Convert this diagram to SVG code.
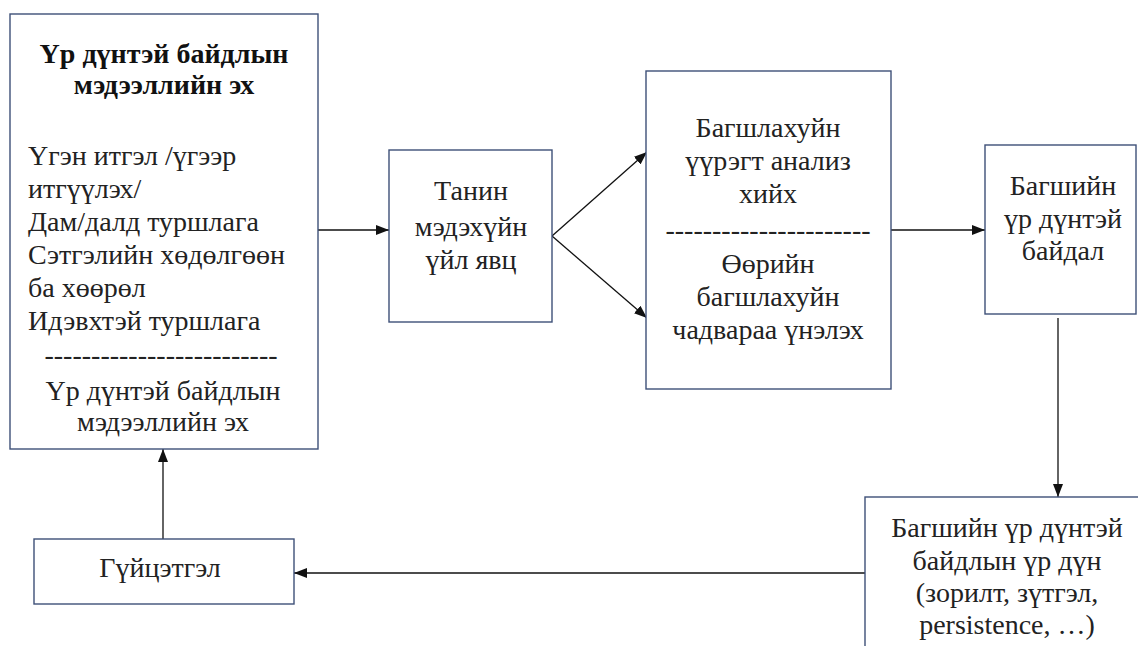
<svg xmlns="http://www.w3.org/2000/svg" width="1138" height="646" viewBox="0 0 1138 646">
<defs>
<marker id="ah" markerUnits="userSpaceOnUse" markerWidth="14" markerHeight="10" refX="13" refY="5" orient="auto">
<path d="M0,0 L13,5 L0,10 z" fill="#111"/>
</marker>
</defs>
<rect width="1138" height="646" fill="#fff"/>
<g id="connectors" stroke="#111" stroke-width="1.3" fill="none">
<line x1="318" y1="230" x2="389" y2="230" marker-end="url(#ah)"/>
<line x1="552" y1="236" x2="647" y2="152" marker-end="url(#ah)"/>
<line x1="552" y1="236" x2="647" y2="318" marker-end="url(#ah)"/>
<line x1="891" y1="230" x2="985" y2="230" marker-end="url(#ah)"/>
<line x1="1058" y1="318" x2="1058" y2="497" marker-end="url(#ah)"/>
<line x1="865" y1="573" x2="294" y2="573" marker-end="url(#ah)"/>
<line x1="163" y1="539" x2="163" y2="449" marker-end="url(#ah)"/>
</g>
<g id="node-source" fill="#222">
<rect x="10" y="14" width="308" height="435" fill="#fff" stroke="#3e5078" stroke-width="1.4"/>
<text font-family="Liberation Serif" font-size="28" font-weight="bold" fill="#111" text-anchor="middle" x="164" y="63">Үр дүнтэй байдлын</text>
<text font-family="Liberation Serif" font-size="28" font-weight="bold" fill="#111" text-anchor="middle" x="164" y="94">мэдээллийн эх</text>
<text font-family="Liberation Serif" font-size="28" x="28" y="165">Үгэн итгэл /үгээр</text>
<text font-family="Liberation Serif" font-size="28" x="28" y="198">итгүүлэх/</text>
<text font-family="Liberation Serif" font-size="28" x="28" y="231">Дам/далд туршлага</text>
<text font-family="Liberation Serif" font-size="28" x="28" y="264">Сэтгэлийн хөдөлгөөн</text>
<text font-family="Liberation Serif" font-size="28" x="28" y="297">ба хөөрөл</text>
<text font-family="Liberation Serif" font-size="28" x="28" y="330">Идэвхтэй туршлага</text>
<text font-family="Liberation Serif" font-size="28" text-anchor="middle" x="161" y="364">-------------------------</text>
<text font-family="Liberation Serif" font-size="28" text-anchor="middle" x="163" y="400">Үр дүнтэй байдлын</text>
<text font-family="Liberation Serif" font-size="28" text-anchor="middle" x="163" y="431">мэдээллийн эх</text>
</g>
<g id="node-cognitive" fill="#222">
<rect x="389" y="150" width="163" height="172" fill="#fff" stroke="#3e5078" stroke-width="1.4"/>
<text font-family="Liberation Serif" font-size="28" text-anchor="middle" x="471" y="200">Танин</text>
<text font-family="Liberation Serif" font-size="28" text-anchor="middle" x="471" y="236">мэдэхүйн</text>
<text font-family="Liberation Serif" font-size="28" text-anchor="middle" x="471" y="269">үйл явц</text>
</g>
<g id="node-analysis" fill="#222">
<rect x="646" y="71" width="245" height="318" fill="#fff" stroke="#3e5078" stroke-width="1.4"/>
<text font-family="Liberation Serif" font-size="28" text-anchor="middle" x="768" y="137">Багшлахуйн</text>
<text font-family="Liberation Serif" font-size="28" text-anchor="middle" x="768" y="170">үүрэгт анализ</text>
<text font-family="Liberation Serif" font-size="28" text-anchor="middle" x="768" y="203">хийх</text>
<text font-family="Liberation Serif" font-size="28" text-anchor="middle" x="768" y="239">----------------------</text>
<text font-family="Liberation Serif" font-size="28" text-anchor="middle" x="768" y="273">Өөрийн</text>
<text font-family="Liberation Serif" font-size="28" text-anchor="middle" x="768" y="306">багшлахуйн</text>
<text font-family="Liberation Serif" font-size="28" text-anchor="middle" x="768" y="339">чадвараа үнэлэх</text>
</g>
<g id="node-effective" fill="#222">
<rect x="985" y="145" width="151" height="169" fill="#fff" stroke="#3e5078" stroke-width="1.4"/>
<text font-family="Liberation Serif" font-size="28" text-anchor="middle" x="1063" y="195">Багшийн</text>
<text font-family="Liberation Serif" font-size="28" text-anchor="middle" x="1063" y="228">үр дүнтэй</text>
<text font-family="Liberation Serif" font-size="28" text-anchor="middle" x="1063" y="260">байдал</text>
</g>
<g id="node-result" fill="#222">
<rect x="865" y="497" width="290" height="160" fill="#fff" stroke="#3e5078" stroke-width="1.4"/>
<text font-family="Liberation Serif" font-size="28" text-anchor="middle" x="1007" y="537">Багшийн үр дүнтэй</text>
<text font-family="Liberation Serif" font-size="28" text-anchor="middle" x="1007" y="570">байдлын үр дүн</text>
<text font-family="Liberation Serif" font-size="28" text-anchor="middle" x="1007" y="602">(зорилт, зүтгэл,</text>
<text font-family="Liberation Serif" font-size="28" text-anchor="middle" x="1007" y="634">persistence, …)</text>
</g>
<g id="node-performance" fill="#222">
<rect x="34" y="539" width="260" height="65" fill="#fff" stroke="#3e5078" stroke-width="1.4"/>
<text font-family="Liberation Serif" font-size="28" text-anchor="middle" x="160" y="577">Гүйцэтгэл</text>
</g>
</svg>
